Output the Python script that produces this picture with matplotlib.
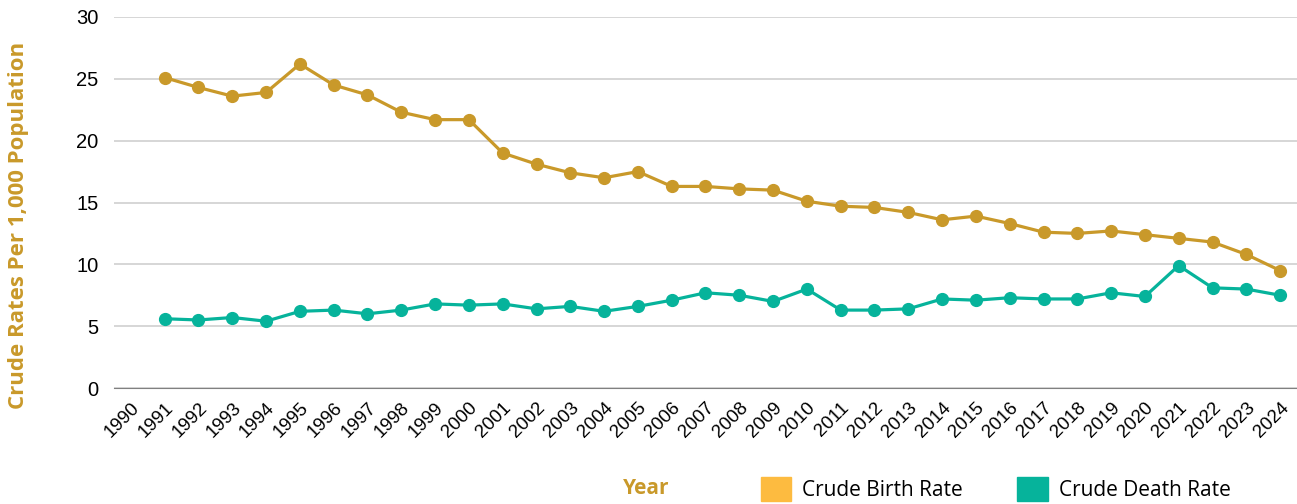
import numpy as np
import matplotlib.pyplot as plt
from matplotlib.patches import Patch

# categories on the x axis (1990 has no data)
years = list(range(1990, 2025))
birth_rate = [np.nan, 25.1, 24.3, 23.6, 23.9, 26.2, 24.5, 23.7, 22.3, 21.7, 21.7,
              19.0, 18.1, 17.4, 17.0, 17.5, 16.3, 16.3, 16.1, 16.0, 15.1,
              14.7, 14.6, 14.2, 13.6, 13.9, 13.3, 12.6, 12.5, 12.7, 12.4,
              12.1, 11.8, 10.8, 9.5]
death_rate = [np.nan, 5.6, 5.5, 5.7, 5.4, 6.2, 6.3, 6.0, 6.3, 6.8, 6.7,
              6.8, 6.4, 6.6, 6.2, 6.6, 7.1, 7.7, 7.5, 7.0, 8.0,
              6.3, 6.3, 6.4, 7.2, 7.1, 7.3, 7.2, 7.2, 7.7, 7.4,
              9.9, 8.1, 8.0, 7.5]

C_BIRTH = "#C9992A"
C_BIRTH_LEG = "#FDBB40"
C_DEATH = "#06B39B"

W, H = 1297, 504
fig = plt.figure(figsize=(W / 100, H / 100), dpi=100)
ax = fig.add_axes([114 / W, 1 - 388 / H, (W - 114) / W, (388 - 17) / H])

x = np.arange(len(years))
ax.plot(x, birth_rate, color=C_BIRTH, lw=2.3, marker="o", ms=8.5, zorder=3)
ax.plot(x, death_rate, color=C_DEATH, lw=2.3, marker="o", ms=8.5, zorder=3)

ax.set_xlim(-0.5, len(years) - 0.5)
ax.set_ylim(0, 30)
ax.set_yticks(range(0, 31, 5))
ax.grid(axis="y", color="#D0D0D0", lw=1.2)
ax.set_axisbelow(True)
for s in ["top", "right", "left"]:
    ax.spines[s].set_visible(False)
ax.spines["bottom"].set_color("#808080")
ax.tick_params(axis="both", length=0)
ax.tick_params(axis="y", labelsize=14.5, pad=11)
ax.set_yticklabels([str(v) for v in range(0, 31, 5)], family="Liberation Sans")
ax.set_xticks(x)
ax.set_xticklabels([str(y) for y in years], rotation=45, ha="right",
                   rotation_mode="anchor", fontsize=13.5, family="Liberation Sans")
ax.tick_params(axis="x", pad=8)

fig.text(19 / W, 1 - 225 / H, "Crude Rates Per 1,000 Population", rotation=90,
         ha="center", va="center", fontsize=16, fontweight="bold",
         color=C_BIRTH, family="Open Sans")
fig.text(646 / W, 1 - 489 / H, "Year", ha="center", va="center", fontsize=15,
         fontweight="bold", color=C_BIRTH, family="Open Sans")

handles = [Patch(color=C_BIRTH_LEG, label="Crude Birth Rate"),
           Patch(color=C_DEATH, label="Crude Death Rate")]
fig.legend(handles=handles, loc="center left", bbox_to_anchor=(742 / W, 1 - 489 / H),
           ncol=2, frameon=False, handlelength=1.45, handleheight=1.45,
           handletextpad=0.55, columnspacing=2.6,
           prop={"family": "Open Sans", "size": 15})

fig.savefig("out.png", dpi=100)
